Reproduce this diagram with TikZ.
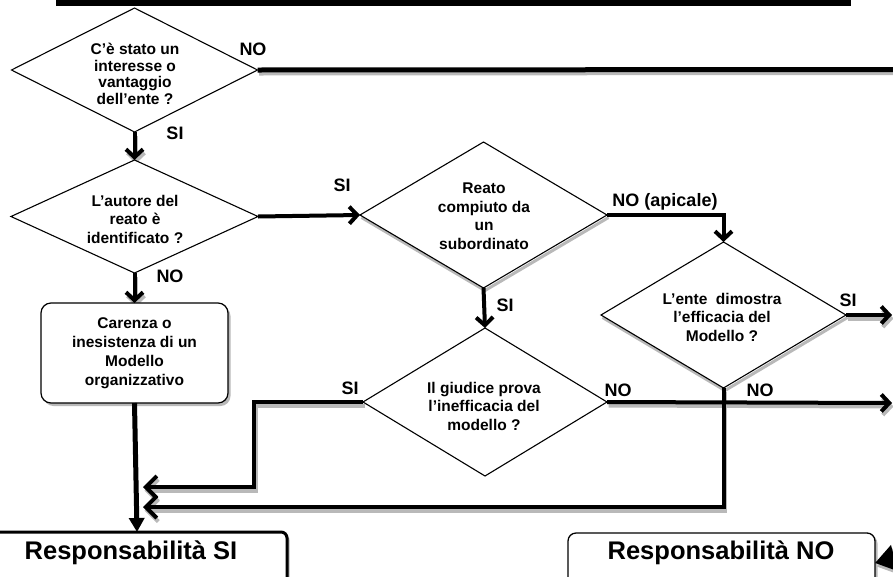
\documentclass[tikz,border=0pt]{standalone}
\usepackage{fontspec}
\setmainfont{Liberation Sans}
\usetikzlibrary{shapes.geometric,arrows.meta,calc}
\pgfdeclarelayer{bg}
\pgfsetlayers{bg,main}
\begin{document}
\begin{tikzpicture}[x=1pt,y=-1pt,
  dtext/.style={font=\fontsize{15.5}{18.5}\selectfont\bfseries, align=center, inner sep=0},
  lab/.style={font=\fontsize{18}{20}\selectfont\bfseries, inner sep=0},
  big/.style={font=\fontsize{25.5}{28}\selectfont\bfseries, inner sep=0},
  dia/.style={diamond, draw, line width=1.1pt, fill=white, inner sep=0, outer sep=0},
  conn/.style={line width=4pt, black},
  shad/.style={line width=4pt, gray!55, transform canvas={shift={(1.5,3.5)}}},
  dshad/.style={line width=3pt, gray!55, line join=round},
  tipA/.style={-{Straight Barb[length=8pt,width=17pt]}},
  tipB/.style={-{Straight Barb[length=11pt,width=22pt]}},
  tipC/.style={-{Triangle[length=14pt,width=15pt]}},
  tipD/.style={-{Triangle[length=20pt,width=26pt]}},
  rbox/.style={draw, fill=white, rounded corners=10pt, line width=1.2pt, inner sep=0, outer sep=0},
  bigbox/.style={draw, fill=white, inner sep=0, outer sep=0}
]
\useasboundingbox (0,0) rectangle (893,576);

% top bar
\node[fill=black, minimum width=795pt, minimum height=12pt, inner sep=0] (topbar) at (453.5,0) {};

% diamonds
\node[dia, minimum width=246pt, minimum height=124pt] (d1) at (134.5,70) {};
\node[dia, minimum width=247pt, minimum height=113pt] (d2) at (134.5,216.5) {};
\node[dia, minimum width=247pt, minimum height=146pt] (d3) at (483.5,215) {};
\node[dia, minimum width=245pt, minimum height=146pt] (d4) at (723.5,315) {};
\node[dia, minimum width=244pt, minimum height=148pt] (d5) at (485,402) {};

% diamond texts
\node[dtext, font=\fontsize{15.5}{16.6}\selectfont\bfseries] (t1) at (135,74) {C’è stato un\\interesse o\\vantaggio\\dell’ente ?};
\node[dtext] (t2) at (135,219) {L’autore del\\reato è\\identificato ?};
\node[dtext] (t3) at (484,216) {Reato\\compiuto da\\un\\subordinato};
\node[dtext] (t4) at (722,317) {L’ente\ \ dimostra\\l’efficacia del\\Modello ?};
\node[dtext] (t5) at (484,406) {Il giudice prova\\l’inefficacia del\\modello ?};

% organisational model box
\node[rbox, minimum width=187pt, minimum height=100pt, dtext, font=\fontsize{15.5}{19}\selectfont\bfseries] (box) at (134.5,353) {Carenza o\\inesistenza di un\\Modello\\organizzativo};

% result boxes
\node[bigbox, line width=3pt, rounded corners=6pt, minimum width=300pt, minimum height=60pt] (rsi) at (137,562) {};
\node[big] (rsit) at (131,553) {Responsabilità SI};
\node[bigbox, line width=1.3pt, rounded corners=8pt, minimum width=307pt, minimum height=60pt] (rno) at (721.5,563) {};
\node[big] (rnot) at (721,553) {Responsabilità NO};

% free ends
\coordinate (r1) at (905,69.5);
\coordinate (r4) at (892,315);
\coordinate (r5) at (892,403);
\coordinate (rnoin) at (910,554);
\coordinate (j1) at (143,487);
\coordinate (j2) at (143,507);
\coordinate (k1) at (254,487);

% shadows
\begin{pgfonlayer}{bg}
  \draw[dshad] ([shift={(1.5,2.5)}]d3.west) -- ([shift={(1.5,2.5)}]d3.south) -- ([shift={(1.5,2.5)}]d3.east);
  \draw[dshad] ([shift={(1.5,2.5)}]d4.west) -- ([shift={(1.5,2.5)}]d4.south) -- ([shift={(1.5,2.5)}]d4.east);
  \fill[gray!55, rounded corners=10pt] ([shift={(2.5,3)}]box.south west) rectangle ([shift={(2.5,3)}]box.north east);
  \fill[gray!55, rounded corners=6pt] ([shift={(2.5,2)}]rsi.south west) rectangle ([shift={(2.5,2)}]rsi.north east);
  \fill[gray!55, rounded corners=8pt] ([shift={(2.5,2.5)}]rno.south west) rectangle ([shift={(2.5,2.5)}]rno.north east);
  \draw[shad, tipA] (d1.south) -- (d2.north);
  \draw[shad] (d1.east) -- (r1);
  \draw[shad, tipA] (d2.south) -- (box.north);
  \draw[shad, tipA] (d4.east) -- (r4);
  \draw[shad, tipA] (d5.east) -- (r5);
  \draw[shad, tipB] (d5.west) -| (k1) -- (j1);
  \draw[shad, tipB] (d4.south) |- (j2);
  \draw[shad, tipD] (rnoin) -- (rno.east);
\end{pgfonlayer}

% connectors
\draw[conn, tipA] (d1.south) -- (d2.north);
\draw[conn, line width=5pt] (d1.east) -- (r1);
\draw[conn, tipA] (d2.east) -- (d3.west);
\draw[conn, tipA] (d2.south) -- (box.north);
\draw[conn, tipA] (d3.east) -| (d4.north);
\draw[conn, tipA] (d3.south) -- (d5.north);
\draw[conn, tipA] (d4.east) -- (r4);
\draw[conn, tipA] (d5.east) -- (r5);
\draw[conn, tipB] (d5.west) -| (k1) -- (j1);
\draw[conn, tipB] (d4.south) |- (j2);
\draw[conn, line width=5pt, tipC] (box.south) -- (rsi.north);
\draw[conn, tipD] (rnoin) -- (rno.east);

% labels
\node[lab] (l1) at (253,49) {NO};
\node[lab] (l2) at (175,133) {SI};
\node[lab] (l3) at (342,185) {SI};
\node[lab] (l4) at (170,276) {NO};
\node[lab] (l5) at (665,202) {NO (apicale)};
\node[lab] (l6) at (505,305) {SI};
\node[lab] (l7) at (848,300) {SI};
\node[lab] (l8) at (760,390) {NO};
\node[lab] (l9) at (618,390) {NO};
\node[lab] (l10) at (350,388) {SI};
\end{tikzpicture}
\end{document}
